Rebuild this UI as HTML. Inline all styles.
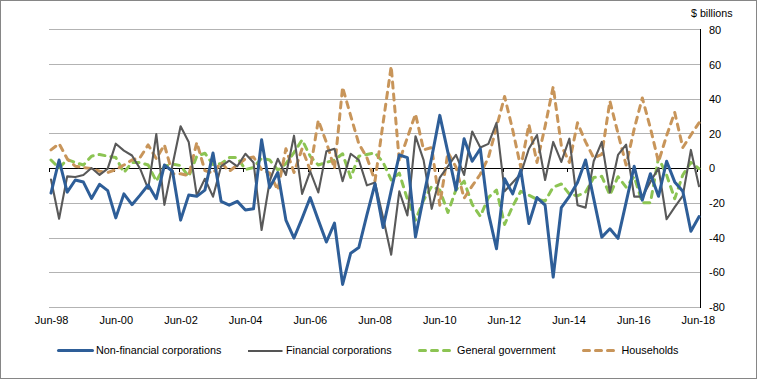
<!DOCTYPE html>
<html><head><meta charset="utf-8"><style>
html,body{margin:0;padding:0;background:#fff;}
body{width:757px;height:379px;overflow:hidden;position:relative;}
svg{position:absolute;left:0;top:0;}
text{font-family:"Liberation Sans",sans-serif;font-size:11px;fill:#000;}
.lg{font-size:10.8px;}
</style></head><body>
<svg width="757" height="379" viewBox="0 0 757 379">
<rect x="0.5" y="0.5" width="756" height="378" fill="#fff" stroke="#868686" stroke-width="1"/>
<g stroke="#b3b3b3" stroke-width="1" shape-rendering="crispEdges"><line x1="49" y1="29.5" x2="700" y2="29.5" /><line x1="49" y1="64.5" x2="700" y2="64.5" /><line x1="49" y1="99.5" x2="700" y2="99.5" /><line x1="49" y1="133.5" x2="700" y2="133.5" /><line x1="49" y1="203.5" x2="700" y2="203.5" /><line x1="49" y1="238.5" x2="700" y2="238.5" /><line x1="49" y1="272.5" x2="700" y2="272.5" /><line x1="49" y1="307.5" x2="700" y2="307.5" /></g>
<g stroke="#000" stroke-width="1" shape-rendering="crispEdges">
<line x1="49" y1="168.5" x2="700" y2="168.5"/>
<line x1="700.5" y1="29" x2="700.5" y2="307.5"/>
<line x1="49.5" y1="168" x2="49.5" y2="172" /><line x1="114.5" y1="168" x2="114.5" y2="172" /><line x1="179.5" y1="168" x2="179.5" y2="172" /><line x1="243.5" y1="168" x2="243.5" y2="172" /><line x1="308.5" y1="168" x2="308.5" y2="172" /><line x1="373.5" y1="168" x2="373.5" y2="172" /><line x1="438.5" y1="168" x2="438.5" y2="172" /><line x1="503.5" y1="168" x2="503.5" y2="172" /><line x1="567.5" y1="168" x2="567.5" y2="172" /><line x1="632.5" y1="168" x2="632.5" y2="172" /><line x1="697.5" y1="168" x2="697.5" y2="172" />
</g>
<g fill="none" stroke-linejoin="round" stroke-linecap="round">
<polyline points="51.00,160.01 59.10,168.00 67.20,159.49 75.30,162.44 83.40,165.05 91.50,156.19 99.60,154.45 107.70,156.19 115.80,157.57 123.90,172.52 132.00,162.44 140.10,162.44 148.20,165.05 156.30,181.21 164.40,166.26 172.50,164.18 180.60,165.57 188.70,176.69 196.80,156.19 204.90,153.23 213.00,164.53 221.10,163.66 229.20,157.57 237.30,157.57 245.40,169.56 253.50,167.48 261.60,158.27 269.70,160.01 277.80,170.09 285.90,163.66 294.00,152.54 302.10,139.85 310.20,156.19 318.30,165.05 326.40,162.44 334.50,160.01 342.60,153.75 350.70,177.56 358.80,156.19 366.90,154.45 375.00,152.88 383.10,162.27 391.20,179.99 399.30,173.21 407.40,199.28 415.50,220.12 423.60,200.14 431.70,186.24 439.80,190.07 447.90,212.48 456.00,189.72 464.10,181.21 472.20,204.49 480.30,216.30 488.40,197.54 496.50,190.07 504.60,224.47 512.70,206.22 520.80,191.28 528.90,195.10 537.00,199.28 545.10,201.01 553.20,187.11 561.30,183.99 569.40,194.06 577.50,195.80 585.60,191.98 593.70,177.56 601.80,176.34 609.90,194.93 618.00,176.69 626.10,187.11 634.20,176.69 642.30,202.75 650.40,202.75 658.50,157.57 666.60,174.95 674.70,198.75 682.80,174.95 690.90,162.44 699.00,168.69" stroke="#8cc453" stroke-width="3" stroke-dasharray="6 6"/>
<polyline points="51.00,149.93 59.10,143.68 67.20,158.79 75.30,166.26 83.40,167.48 91.50,168.69 99.60,171.30 107.70,172.52 115.80,169.56 123.90,165.05 132.00,160.01 140.10,157.57 148.20,144.89 156.30,158.79 164.40,144.89 172.50,173.73 180.60,173.73 188.70,175.82 196.80,142.46 204.90,170.61 213.00,173.21 221.10,162.44 229.20,171.30 237.30,165.05 245.40,158.79 253.50,157.05 261.60,169.74 269.70,173.21 277.80,190.07 285.90,148.71 294.00,172.52 302.10,148.71 310.20,170.09 318.30,120.22 326.40,142.46 334.50,168.69 342.60,87.21 350.70,115.88 358.80,143.68 366.90,157.57 375.00,181.03 383.10,122.82 391.20,66.36 399.30,161.22 407.40,137.59 415.50,113.96 423.60,149.93 431.70,147.50 439.80,205.18 447.90,152.36 456.00,167.13 464.10,198.23 472.20,185.90 480.30,174.25 488.40,157.57 496.50,127.34 504.60,96.41 512.70,129.95 520.80,167.48 528.90,124.56 537.00,162.44 545.10,126.30 553.20,86.69 561.30,145.41 569.40,162.44 577.50,122.82 585.60,141.94 593.70,157.92 601.80,154.45 609.90,101.11 618.00,133.42 626.10,165.05 634.20,128.91 642.30,97.98 650.40,128.04 658.50,161.92 666.60,135.68 674.70,112.40 682.80,147.50 690.90,134.99 699.00,122.82" stroke="#c8955a" stroke-width="3" stroke-dasharray="6 6"/>
<polyline points="51.00,179.47 59.10,218.74 67.20,176.34 75.30,177.03 83.40,174.95 91.50,168.00 99.60,174.95 107.70,168.69 115.80,143.68 123.90,150.62 132.00,155.49 140.10,168.69 148.20,188.85 156.30,134.12 164.40,204.84 172.50,165.05 180.60,126.30 188.70,141.94 196.80,195.63 204.90,178.77 213.00,196.67 221.10,166.26 229.20,160.70 237.30,166.26 245.40,153.75 253.50,162.44 261.60,230.03 269.70,181.21 277.80,158.79 285.90,174.95 294.00,135.68 302.10,193.89 310.20,171.30 318.30,192.50 326.40,151.15 334.50,148.71 342.60,181.21 350.70,153.75 358.80,160.01 366.90,185.38 375.00,182.59 383.10,217.69 391.20,254.70 399.30,191.28 407.40,215.43 415.50,136.20 423.60,160.18 431.70,208.83 439.80,177.56 447.90,166.26 456.00,154.97 464.10,174.95 472.20,131.51 480.30,147.50 488.40,143.85 496.50,122.82 504.60,191.28 512.70,182.59 520.80,173.73 528.90,148.71 537.00,134.99 545.10,179.99 553.20,141.94 561.30,161.92 569.40,138.64 577.50,205.18 585.60,207.62 593.70,161.22 601.80,141.94 609.90,192.50 618.00,154.97 626.10,144.54 634.20,196.67 642.30,196.67 650.40,181.90 658.50,168.00 666.60,219.26 674.70,207.09 682.80,195.80 690.90,149.93 699.00,186.24" stroke="#595959" stroke-width="2.1"/>
<polyline points="51.00,193.02 59.10,160.01 67.20,192.15 75.30,179.99 83.40,182.07 91.50,198.41 99.60,184.33 107.70,190.59 115.80,217.87 123.90,193.89 132.00,204.66 140.10,195.10 148.20,185.03 156.30,198.75 164.40,165.05 172.50,171.30 180.60,220.12 188.70,195.10 196.80,196.32 204.90,190.07 213.00,153.06 221.10,201.36 229.20,205.18 237.30,201.36 245.40,210.05 253.50,208.83 261.60,139.85 269.70,187.63 277.80,172.52 285.90,220.12 294.00,238.02 302.10,218.39 310.20,197.54 318.30,220.12 326.40,242.02 334.50,223.08 342.60,284.41 350.70,253.14 358.80,247.58 366.90,214.91 375.00,183.81 383.10,227.60 391.20,190.59 399.30,154.97 407.40,157.57 415.50,236.98 423.60,196.67 431.70,157.57 439.80,115.35 447.90,152.36 456.00,190.07 464.10,138.64 472.20,161.22 480.30,148.71 488.40,213.18 496.50,248.79 504.60,178.77 512.70,193.89 520.80,170.09 528.90,223.60 537.00,197.54 545.10,205.18 553.20,277.12 561.30,207.62 569.40,196.32 577.50,182.59 585.60,160.01 593.70,198.58 601.80,237.15 609.90,228.81 618.00,238.37 626.10,202.32 634.20,166.26 642.30,200.14 650.40,173.73 658.50,196.32 666.60,161.22 674.70,181.90 682.80,191.28 690.90,231.25 699.00,216.65" stroke="#2e5e98" stroke-width="3"/>
</g>

<text x="691" y="17" style="font-size:10.7px">$ billions</text>
<text x="709" y="34">80</text><text x="709" y="69">60</text><text x="709" y="103">40</text><text x="709" y="138">20</text><text x="709" y="172">0</text><text x="709" y="207">-20</text><text x="709" y="242">-40</text><text x="709" y="276">-60</text><text x="709" y="311">-80</text>
<text x="34.80" y="324">Jun-98</text><text x="99.48" y="324">Jun-00</text><text x="164.16" y="324">Jun-02</text><text x="228.84" y="324">Jun-04</text><text x="293.52" y="324">Jun-06</text><text x="358.20" y="324">Jun-08</text><text x="422.88" y="324">Jun-10</text><text x="487.56" y="324">Jun-12</text><text x="552.24" y="324">Jun-14</text><text x="616.92" y="324">Jun-16</text><text x="681.60" y="324">Jun-18</text>
<g stroke-linecap="round" fill="none">
<line x1="58.5" y1="350.5" x2="92.5" y2="350.5" stroke="#2e5e98" stroke-width="3"/>
<line x1="248" y1="351" x2="282.5" y2="351" stroke="#555555" stroke-width="2" stroke-linecap="butt"/>
<line x1="419.5" y1="350.5" x2="450" y2="350.5" stroke="#8cc453" stroke-width="3" stroke-dasharray="6 6"/>
<line x1="583.5" y1="350.5" x2="614" y2="350.5" stroke="#c8955a" stroke-width="3" stroke-dasharray="6 6"/>
</g>
<text x="96" y="353.6" class="lg">Non-financial corporations</text>
<text x="286" y="353.6" class="lg">Financial corporations</text>
<text x="457" y="353.6" class="lg">General government</text>
<text x="621.5" y="353.6" class="lg">Households</text>
</svg>
</body></html>
